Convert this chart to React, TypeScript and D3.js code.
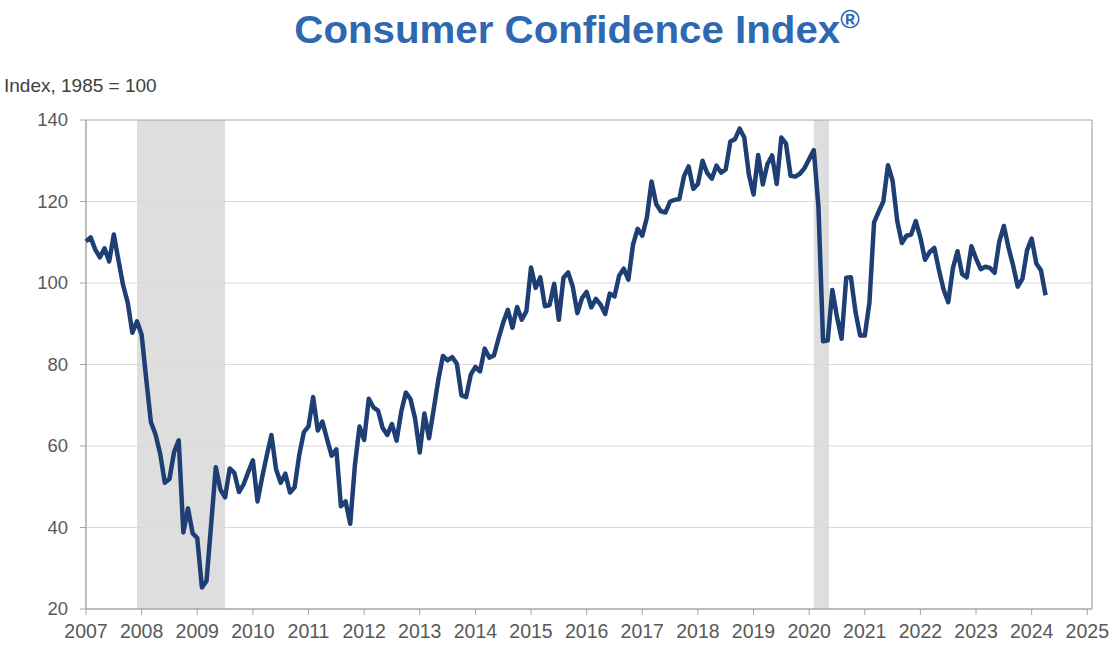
import React from "react";
import * as d3 from "d3";

const title = "Consumer Confidence Index";
const yAxisTitle = "Index, 1985 = 100";
const startYear = 2007;
const yTicks = [20, 40, 60, 80, 100, 120, 140];
const xTicks = [2007, 2008, 2009, 2010, 2011, 2012, 2013, 2014, 2015, 2016, 2017, 2018, 2019, 2020, 2021, 2022, 2023, 2024, 2025];

const cci2007 = [110.2, 111.2, 108.2, 106.3, 108.5, 105.3, 111.9, 105.6, 99.5, 95.2, 87.8, 90.6];
const cci2008 = [87.3, 76.4, 65.9, 62.8, 58.1, 51.0, 51.9, 58.5, 61.4, 38.8, 44.7, 38.6];
const cci2009 = [37.4, 25.3, 26.9, 40.8, 54.8, 49.3, 47.4, 54.5, 53.4, 48.7, 50.6, 53.6];
const cci2010 = [56.5, 46.4, 52.3, 57.7, 62.7, 54.3, 51.0, 53.2, 48.6, 49.9, 57.8, 63.4];
const cci2011 = [64.8, 72.0, 63.8, 66.0, 61.7, 57.6, 59.2, 45.2, 46.4, 40.9, 55.2, 64.8];
const cci2012 = [61.5, 71.6, 69.5, 68.7, 64.4, 62.7, 65.4, 61.3, 68.4, 73.1, 71.5, 66.7];
const cci2013 = [58.4, 68.0, 61.9, 69.0, 76.2, 82.1, 81.0, 81.8, 80.2, 72.4, 72.0, 77.5];
const cci2014 = [79.4, 78.3, 83.9, 81.7, 82.2, 86.4, 90.3, 93.4, 89.0, 94.1, 91.0, 93.1];
const cci2015 = [103.8, 98.8, 101.4, 94.3, 94.6, 99.8, 91.0, 101.3, 102.6, 99.1, 92.6, 96.3];
const cci2016 = [97.8, 94.0, 96.1, 94.7, 92.4, 97.4, 96.7, 101.8, 103.5, 100.8, 109.4, 113.3];
const cci2017 = [111.6, 116.1, 124.9, 119.4, 117.6, 117.3, 120.0, 120.4, 120.6, 126.2, 128.6, 123.1];
const cci2018 = [124.3, 130.0, 127.0, 125.6, 128.8, 127.1, 127.9, 134.7, 135.3, 137.9, 135.7, 126.6];
const cci2019 = [121.7, 131.4, 124.2, 129.2, 131.3, 124.3, 135.7, 134.2, 126.3, 126.1, 126.8, 128.2];
const cci2020 = [130.4, 132.6, 118.8, 85.7, 85.9, 98.3, 91.7, 86.3, 101.3, 101.4, 92.9, 87.1];
const cci2021 = [87.1, 95.2, 114.9, 117.5, 120.0, 128.9, 125.1, 115.2, 109.8, 111.6, 111.9, 115.2];
const cci2022 = [111.1, 105.7, 107.6, 108.6, 103.2, 98.4, 95.3, 103.6, 107.8, 102.2, 101.4, 109.0];
const cci2023 = [106.0, 103.4, 104.0, 103.7, 102.5, 110.1, 114.0, 108.7, 104.3, 99.1, 101.0, 108.0];
const cci2024 = [110.9, 104.8, 103.1, 97.0];

const cci = [
  ...cci2007, ...cci2008, ...cci2009, ...cci2010, ...cci2011, ...cci2012,
  ...cci2013, ...cci2014, ...cci2015, ...cci2016, ...cci2017, ...cci2018,
  ...cci2019, ...cci2020, ...cci2021, ...cci2022, ...cci2023, ...cci2024,
];

const recessionStarts = [2007 + 11 / 12, 2020 + 1 / 12];
const recessionEnds = [2009.5, 2020 + 4.3 / 12];

export default function App() {
  const W = 1120;
  const H = 651;
  const left = 86;
  const right = 1092;
  const top = 120;
  const bottom = 609;

  const x = d3.scaleLinear().domain([2007, 2025]).range([left, 1087.3]);
  const y = d3.scaleLinear().domain([20, 140]).range([bottom, top]);

  const pts = cci.map((v, i) => [startYear + i / 12, v] as [number, number]);
  const line = d3
    .line<[number, number]>()
    .x((d) => x(d[0]))
    .y((d) => y(d[1]));

  const font = "'Liberation Sans', Arial, sans-serif";

  return (
    <svg
      width={W}
      height={H}
      style={{ position: "absolute", left: 0, top: 0, background: "#fff" }}
    >
      <g transform="translate(577,43) scale(1.06,1)">
        <text
          x={0}
          y={0}
          textAnchor="middle"
          fontFamily={font}
          fontWeight="bold"
          fontSize={38}
          fill="#2e68b1"
        >
          {title}
          <tspan fontSize={25} dy={-15}>®</tspan>
        </text>
      </g>
      <text x={4} y={92} fontFamily={font} fontSize={19} fill="#404040">
        {yAxisTitle}
      </text>

      {recessionStarts.map((s, i) => (
        <rect
          key={"r" + i}
          x={x(s)}
          y={top}
          width={x(recessionEnds[i]) - x(s)}
          height={bottom - top}
          fill="#dedede"
        />
      ))}

      {yTicks.map((t) => (
        <g key={"y" + t}>
          {t !== 20 && t !== 140 && (
            <line x1={left} x2={right} y1={y(t)} y2={y(t)} stroke="#d9d9d9" strokeWidth={1} />
          )}
          <line x1={left - 6} x2={left} y1={y(t)} y2={y(t)} stroke="#a6a6a6" strokeWidth={1} />
          <text
            x={left - 18}
            y={y(t)}
            dy="0.35em"
            textAnchor="end"
            fontFamily={font}
            fontSize={18.5}
            fill="#595959"
          >
            {t}
          </text>
        </g>
      ))}

      <line x1={left} x2={right} y1={top} y2={top} stroke="#a6a6a6" strokeWidth={1.2} />
      <line x1={right} x2={right} y1={top} y2={bottom} stroke="#a6a6a6" strokeWidth={1.2} />
      <line x1={left} x2={left} y1={top} y2={bottom} stroke="#a6a6a6" strokeWidth={1.5} />
      <line x1={left} x2={right} y1={bottom} y2={bottom} stroke="#a6a6a6" strokeWidth={1.5} />

      {xTicks.map((t) => (
        <g key={"x" + t}>
          <line x1={x(t)} x2={x(t)} y1={bottom} y2={bottom + 6} stroke="#a6a6a6" strokeWidth={1} />
          <text
            x={x(t)}
            y={638}
            textAnchor="middle"
            fontFamily={font}
            fontSize={19.5}
            fill="#595959"
          >
            {t}
          </text>
        </g>
      ))}

      <path
        d={line(pts) || ""}
        fill="none"
        stroke="#1d3f73"
        strokeWidth={4.5}
        strokeLinejoin="round"
        strokeLinecap="butt"
      />
    </svg>
  );
}
